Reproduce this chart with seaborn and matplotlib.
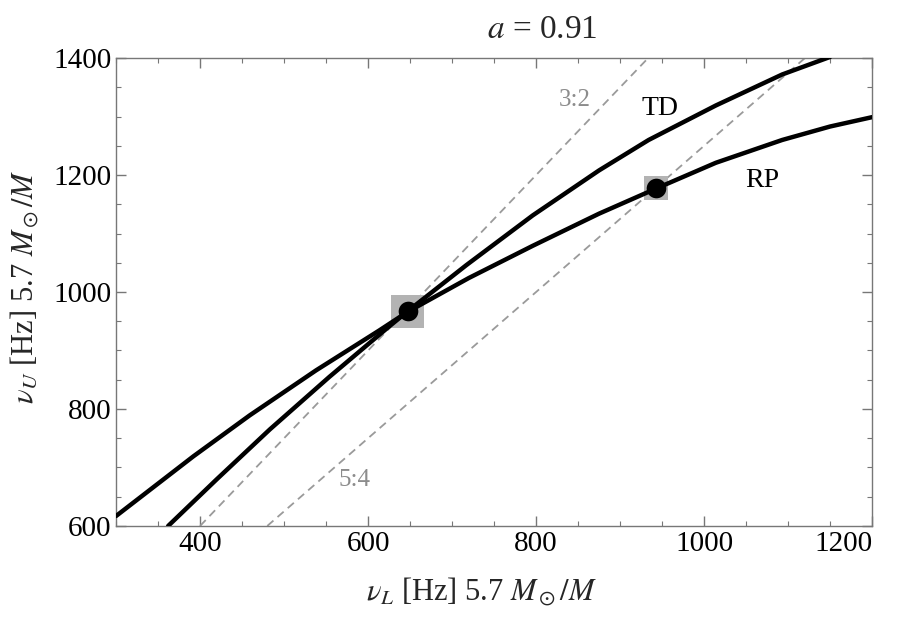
# nu_U vs nu_L for the RP and TD models, a = 0.91, with 3:2 and 5:4 resonance lines

import pandas as pd
import seaborn as sns
import matplotlib.pyplot as plt
from matplotlib.ticker import MultipleLocator

sns.set_theme(style="ticks")
plt.rcParams['font.family'] = ['Liberation Serif', 'DejaVu Serif']
plt.rcParams['mathtext.fontset'] = 'stix'

# curves
rp_nuL = [300, 392, 459, 538, 613, 647, 720, 796, 875, 943, 1014, 1093, 1150, 1200]
rp_nuU = [617, 719, 789, 866, 934, 966, 1024, 1079, 1134, 1177, 1221, 1260, 1283, 1299]
td_nuL = [362, 420, 483, 554, 625, 647, 717, 796, 875, 934, 1014, 1093, 1150]
td_nuU = [600, 680, 765, 855, 941, 967, 1046, 1131, 1208, 1260, 1319, 1372, 1402]

# resonance points
res_nuL = [647, 943]
res_nuU = [967, 1178]
res_box = [566, 300]   # marker area of the grey boxes

ratios = [1.5, 1.25]
ratio_names = ["3:2", "5:4"]
ratio_label_pos = [(846, 1329), (584, 679)]

curve_names = ["TD", "RP"]
curve_label_pos = [(948, 1314), (1069, 1191)]

xticks = [400, 600, 800, 1000, 1200]
yticks = [600, 800, 1000, 1200, 1400]

rp = pd.DataFrame({"nuL": rp_nuL, "nuU": rp_nuU})
td = pd.DataFrame({"nuL": td_nuL, "nuU": td_nuU})

fig = plt.figure(figsize=(9, 6.18), dpi=100)
ax = fig.add_axes([0.129, 0.149, 0.840, 0.757])

for r in ratios:
    ax.axline((0, 0), slope=r, color="#9a9a9a", lw=1.3, ls=(0, (4.5, 3)), zorder=1)

sns.lineplot(data=td, x="nuL", y="nuU", sort=False, estimator=None,
             color="black", linewidth=3.2, ax=ax, zorder=3)
sns.lineplot(data=rp, x="nuL", y="nuU", sort=False, estimator=None,
             color="black", linewidth=3.2, ax=ax, zorder=3)

ax.scatter(res_nuL, res_nuU, s=res_box, marker="s", color="#b3b3b3",
           linewidths=0, zorder=2)
ax.scatter(res_nuL, res_nuU, s=200, marker="o", color="black",
           linewidths=0, zorder=4)

for name, (x, y) in zip(ratio_names, ratio_label_pos):
    ax.text(x, y, name, color="#8c8c8c", fontsize=18, ha="center", va="center")
for name, (x, y) in zip(curve_names, curve_label_pos):
    ax.text(x, y, name, color="black", fontsize=20, ha="center", va="center")

ax.set_xlim(300, 1200)
ax.set_ylim(600, 1400)
ax.set_xticks(xticks)
ax.set_yticks(yticks)
ax.set_xticklabels([str(t) for t in xticks])
ax.set_yticklabels([str(t) for t in yticks])
ax.xaxis.set_minor_locator(MultipleLocator(50))
ax.yaxis.set_minor_locator(MultipleLocator(50))
ax.tick_params(which="both", direction="in", top=True, right=True,
               color="#777777", labelsize=21, labelcolor="black")
ax.tick_params(which="major", length=7, width=1)
ax.tick_params(which="minor", length=3.5, width=0.8)
for s in ax.spines.values():
    s.set_color("#777777")
    s.set_linewidth(1)

for lbl in ax.get_xticklabels():
    if lbl.get_text() == "1200":
        lbl.set_horizontalalignment("right")

ax.set_xlabel(r"$\nu_L$ [Hz] 5.7 $M_\odot/M$", fontsize=22)
ax.set_ylabel(r"$\nu_U$ [Hz] 5.7 $M_\odot/M$", fontsize=22)
ax.xaxis.set_label_coords(0.483, -0.105)
ax.yaxis.set_label_coords(-0.10, 0.51)
fig.text(0.603, 0.952, r"$a$ = 0.91", fontsize=24, ha="center", va="center")

plt.savefig("out.png", dpi=100)
